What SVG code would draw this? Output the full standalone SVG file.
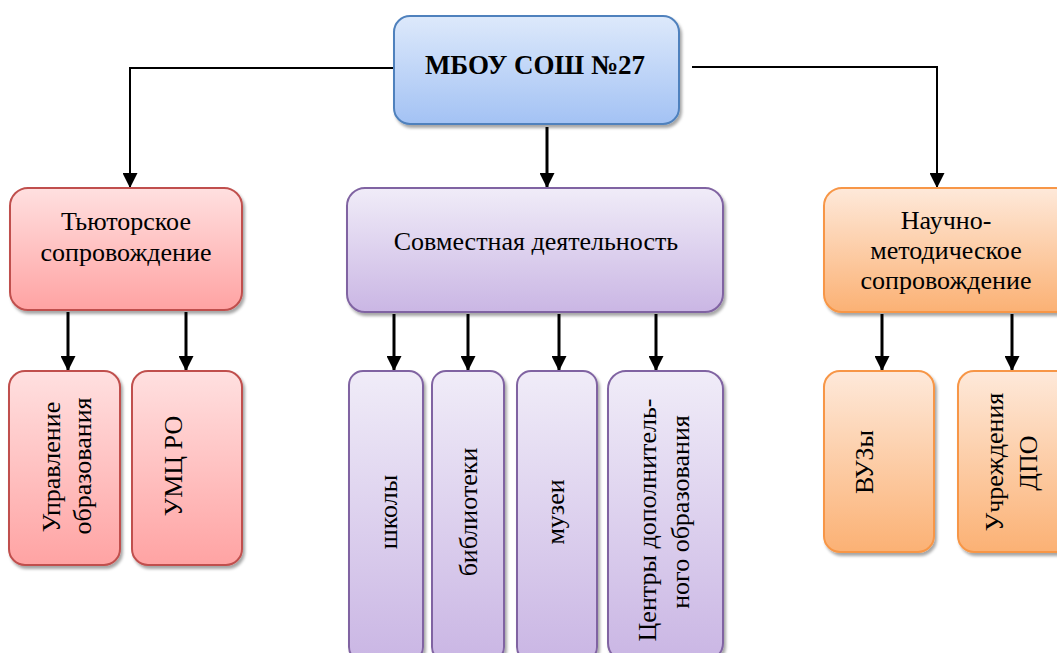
<svg xmlns="http://www.w3.org/2000/svg" width="1057" height="653" viewBox="0 0 1057 653">
<defs>
<linearGradient id="gBlue" x1="0" y1="0" x2="0" y2="1"><stop offset="0" stop-color="#dde9fb"/><stop offset="1" stop-color="#a3c2f4"/></linearGradient>
<linearGradient id="gRed" x1="0" y1="0" x2="0" y2="1"><stop offset="0" stop-color="#ffe0e0"/><stop offset="1" stop-color="#ffa3a3"/></linearGradient>
<linearGradient id="gPur" x1="0" y1="0" x2="0" y2="1"><stop offset="0" stop-color="#f0ecf8"/><stop offset="1" stop-color="#cab6e4"/></linearGradient>
<linearGradient id="gOr" x1="0" y1="0" x2="0" y2="1"><stop offset="0" stop-color="#fee9da"/><stop offset="1" stop-color="#fbb174"/></linearGradient>
<filter id="sh" x="-10%" y="-10%" width="130%" height="130%"><feDropShadow dx="2" dy="3" stdDeviation="1.5" flood-color="#000" flood-opacity="0.35"/></filter>
<marker id="arr" markerWidth="15" markerHeight="15" refX="15" refY="7.5" orient="auto" markerUnits="userSpaceOnUse" viewBox="0 0 15 15"><path d="M0,0 L15,7.5 L0,15 Z" fill="#000"/></marker>
</defs>
<style>
.b{stroke:#4f81bd;stroke-width:2;fill:url(#gBlue);filter:url(#sh)}
.r{stroke:#c0504d;stroke-width:2;fill:url(#gRed);filter:url(#sh)}
.p{stroke:#8064a2;stroke-width:2;fill:url(#gPur);filter:url(#sh)}
.o{stroke:#f79646;stroke-width:2;fill:url(#gOr);filter:url(#sh)}
text{font-family:"Liberation Serif","Times New Roman",serif;font-size:26px;fill:#000;text-anchor:middle}
.t{font-weight:bold;font-size:27px}
.c path{stroke:#000;stroke-width:2;fill:none}
.c path.k{stroke-width:3}
</style>
<g class="c" id="connectors">
<path d="M394,68 H130 V188" marker-end="url(#arr)"/>
<path d="M692,67 H937 V188" marker-end="url(#arr)"/>
<path class="k" d="M547,127 V188" marker-end="url(#arr)"/>
<path class="k" d="M68,312 V371" marker-end="url(#arr)"/>
<path class="k" d="M186,312 V371" marker-end="url(#arr)"/>
<path class="k" d="M394,314 V371" marker-end="url(#arr)"/>
<path class="k" d="M468,314 V371" marker-end="url(#arr)"/>
<path class="k" d="M559,314 V371" marker-end="url(#arr)"/>
<path class="k" d="M656,314 V371" marker-end="url(#arr)"/>
<path class="k" d="M882,314 V371" marker-end="url(#arr)"/>
<path class="k" d="M1012,314 V371" marker-end="url(#arr)"/>
</g>
<g id="n-root"><rect class="b" x="394" y="16" width="285" height="108" rx="16"/><text class="t" x="535" y="74">МБОУ СОШ №27</text></g>
<g id="n-tut"><rect class="r" x="10" y="188" width="232" height="122" rx="18"/><text x="126" y="230">Тьюторское</text><text x="126" y="261">сопровождение</text></g>
<g id="n-sov"><rect class="p" x="347" y="188" width="376" height="124" rx="18"/><text x="536" y="250">Совместная деятельность</text></g>
<g id="n-nauch"><rect class="o" x="824" y="188" width="250" height="124" rx="18"/><text x="946" y="229">Научно-</text><text x="946" y="259">методическое</text><text x="946" y="289">сопровождение</text></g>
<g id="n-upr"><rect class="r" x="9" y="371" width="111" height="194" rx="16"/><text x="60" y="467" transform="rotate(-90 60 467)">Управление</text><text x="91" y="466" transform="rotate(-90 91 466)">образования</text></g>
<g id="n-umc"><rect class="r" x="132" y="371" width="110" height="194" rx="16"/><text x="182" y="466" transform="rotate(-90 182 466)">УМЦ РО</text></g>
<g id="n-shk"><rect class="p" x="349" y="371" width="74" height="290" rx="14"/><text x="397" y="512" transform="rotate(-90 397 512)">школы</text></g>
<g id="n-bib"><rect class="p" x="432" y="371" width="72" height="290" rx="14"/><text x="477" y="512" transform="rotate(-90 477 512)">библиотеки</text></g>
<g id="n-muz"><rect class="p" x="517" y="371" width="80" height="290" rx="14"/><text x="564" y="512" transform="rotate(-90 564 512)">музеи</text></g>
<g id="n-cdo"><rect class="p" x="608" y="371" width="115" height="290" rx="18"/><text x="656" y="520" transform="rotate(-90 656 520)">Центры дополнитель-</text><text x="689" y="512" transform="rotate(-90 689 512)">ного образования</text></g>
<g id="n-vuz"><rect class="o" x="824" y="371" width="110" height="181" rx="16"/><text x="873" y="462" transform="rotate(-90 873 462)">ВУЗы</text></g>
<g id="n-dpo"><rect class="o" x="958" y="371" width="116" height="181" rx="16"/><text x="1003" y="462" transform="rotate(-90 1003 462)">Учреждения</text><text x="1037" y="463" transform="rotate(-90 1037 463)">ДПО</text></g>
</svg>
